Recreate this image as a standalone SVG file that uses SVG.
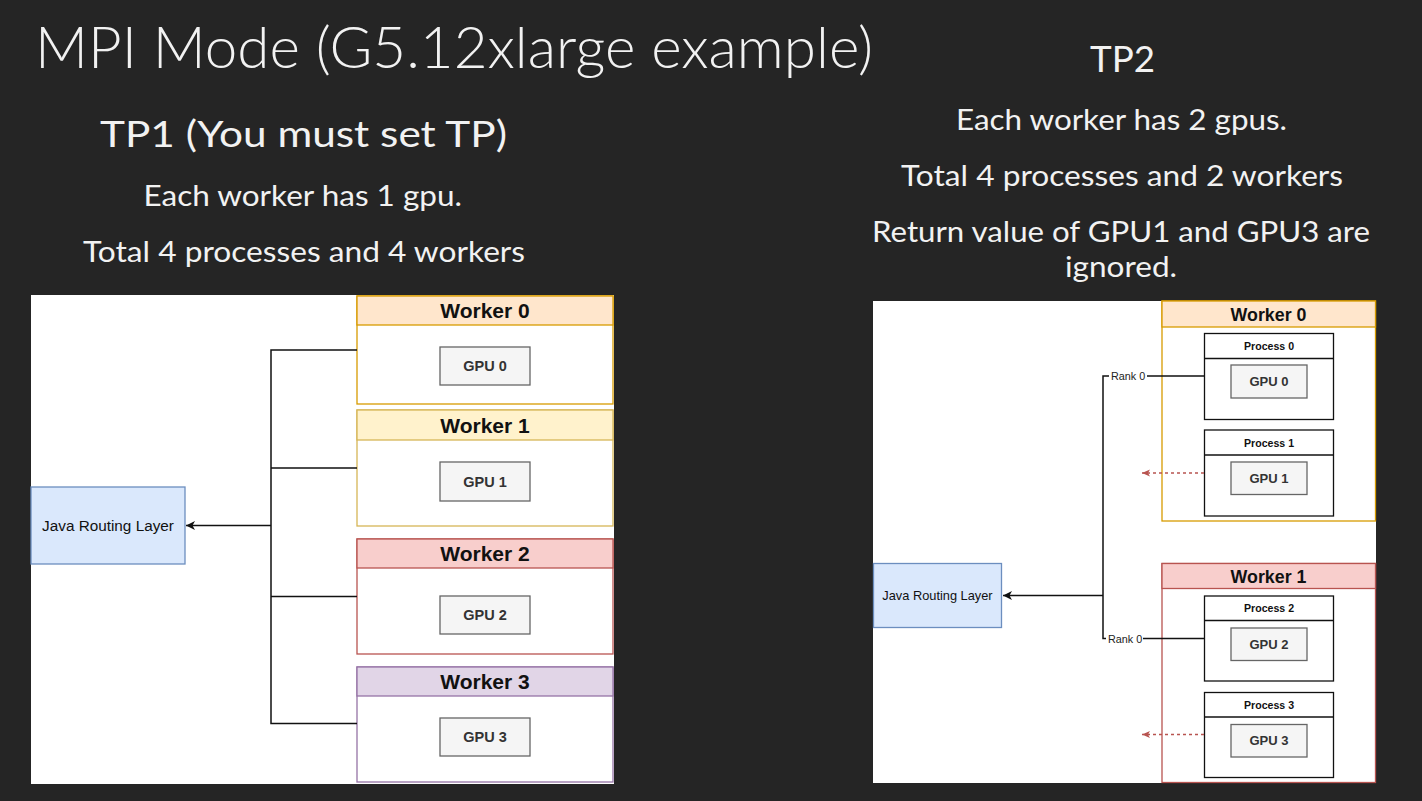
<svg xmlns="http://www.w3.org/2000/svg" width="1422" height="801" viewBox="0 0 1422 801">
<style>
.h{font-family:Lato,"Open Sans","Liberation Sans",sans-serif;fill:#f2f2f2}
.d{font-family:"Liberation Sans",Arial,sans-serif;fill:#111;text-anchor:middle}
.wt{font-weight:bold;font-size:21px}
.wt2{font-weight:bold;font-size:17.8px}
.gt{font-weight:bold;font-size:14.5px;fill:#333}
.gt2{font-weight:bold;font-size:13px;fill:#333}
.pt{font-weight:bold;font-size:10.6px}
.jt{font-size:15.3px}
.jt2{font-size:12.8px}
.rk{font-size:10.8px;text-anchor:start;fill:#222}
.gpu{fill:#f5f5f5;stroke:#666;stroke-width:1.3}
.body{fill:#fff;stroke-width:1.3}
.proc{fill:#fff;stroke:#111;stroke-width:1.3}
.java{fill:#dae8fc;stroke:#6c8ebf;stroke-width:1.3}
.ln{fill:none;stroke:#111;stroke-width:1.5}
.dash{fill:none;stroke:#b85450;stroke-width:1.3;stroke-dasharray:3 3}
</style>
<defs>
<marker id="ab" markerWidth="12" markerHeight="12" refX="10" refY="6" orient="auto" markerUnits="userSpaceOnUse">
<path d="M10,6 L1,1.5 L3.5,6 L1,10.5 Z" fill="#111"/>
</marker>
<marker id="ar" markerWidth="10" markerHeight="10" refX="9" refY="5" orient="auto" markerUnits="userSpaceOnUse">
<path d="M9,5 L1,1.5 L3,5 L1,8.5 Z" fill="#b85450"/>
</marker>
</defs>
<rect width="1422" height="801" fill="#252525"/>

<g id="titles">
<text class="h" x="35" y="68" font-size="58" font-weight="300" textLength="838" lengthAdjust="spacingAndGlyphs">MPI Mode (G5.12xlarge example)</text>
<text class="h" x="100" y="147" font-size="36" textLength="407" lengthAdjust="spacingAndGlyphs">TP1 (You must set TP)</text>
<text class="h" x="143.5" y="206" font-size="28" textLength="318.5" lengthAdjust="spacingAndGlyphs">Each worker has 1 gpu.</text>
<text class="h" x="83" y="262" font-size="28" textLength="442" lengthAdjust="spacingAndGlyphs">Total 4 processes and 4 workers</text>
<text class="h" x="1090" y="72" font-size="37" textLength="65" lengthAdjust="spacingAndGlyphs">TP2</text>
<text class="h" x="956" y="130" font-size="28" textLength="331" lengthAdjust="spacingAndGlyphs">Each worker has 2 gpus.</text>
<text class="h" x="901" y="186" font-size="28" textLength="442" lengthAdjust="spacingAndGlyphs">Total 4 processes and 2 workers</text>
<text class="h" x="872" y="242" font-size="28" textLength="498" lengthAdjust="spacingAndGlyphs">Return value of GPU1 and GPU3 are</text>
<text class="h" x="1065" y="277" font-size="28" textLength="112" lengthAdjust="spacingAndGlyphs">ignored.</text>
</g>

<g id="panels">
<rect x="31" y="295" width="583" height="489" fill="#fff"/>
<rect x="873" y="301" width="503" height="482" fill="#fff"/>
</g>

<g id="java-left">
<rect class="java" x="31" y="487" width="154" height="77"/>
<text class="d jt" x="108" y="531">Java Routing Layer</text>
</g>

<g id="worker0-left">
<rect class="body" x="357" y="296" width="256" height="108" stroke="#d79b00"/>
<rect x="357" y="296" width="256" height="29" fill="#ffe6cc" stroke="#d79b00" stroke-width="1.3"/>
<text class="d wt" x="485" y="318">Worker 0</text>
<rect class="gpu" x="440" y="347" width="90" height="38"/>
<text class="d gt" x="485" y="371">GPU 0</text>
</g>
<g id="worker1-left">
<rect class="body" x="357" y="410" width="256" height="116" stroke="#d6b656"/>
<rect x="357" y="410" width="256" height="30" fill="#fff2cc" stroke="#d6b656" stroke-width="1.3"/>
<text class="d wt" x="485" y="432.5">Worker 1</text>
<rect class="gpu" x="440" y="462" width="90" height="39"/>
<text class="d gt" x="485" y="486.5">GPU 1</text>
</g>
<g id="worker2-left">
<rect class="body" x="357" y="539" width="256" height="115" stroke="#b85450"/>
<rect x="357" y="539" width="256" height="29" fill="#f8cecc" stroke="#b85450" stroke-width="1.3"/>
<text class="d wt" x="485" y="561">Worker 2</text>
<rect class="gpu" x="440" y="596" width="90" height="38"/>
<text class="d gt" x="485" y="620">GPU 2</text>
</g>
<g id="worker3-left">
<rect class="body" x="357" y="667" width="256" height="115" stroke="#9673a6"/>
<rect x="357" y="667" width="256" height="29" fill="#e1d5e7" stroke="#9673a6" stroke-width="1.3"/>
<text class="d wt" x="485" y="689">Worker 3</text>
<rect class="gpu" x="440" y="718" width="90" height="38"/>
<text class="d gt" x="485" y="742">GPU 3</text>
</g>

<g id="java-right">
<rect class="java" x="873.5" y="563.5" width="128" height="64"/>
<text class="d jt2" x="937.5" y="600">Java Routing Layer</text>
</g>

<g id="worker0-right">
<rect class="body" x="1162" y="301" width="213.5" height="220" stroke="#d79b00"/>
<rect x="1162" y="301" width="213.5" height="26" fill="#ffe6cc" stroke="#d79b00" stroke-width="1.3"/>
<text class="d wt2" x="1268.5" y="320.5">Worker 0</text>
</g>
<g id="process0">
<rect class="proc" x="1204.5" y="333.5" width="129" height="86"/>
<line x1="1204.5" y1="358.5" x2="1333.5" y2="358.5" stroke="#111" stroke-width="1.3"/>
<text class="d pt" x="1269" y="350">Process 0</text>
<rect class="gpu" x="1231" y="365" width="76" height="33"/>
<text class="d gt2" x="1269" y="386">GPU 0</text>
</g>
<g id="process1">
<rect class="proc" x="1204.5" y="430" width="129" height="86"/>
<line x1="1204.5" y1="455" x2="1333.5" y2="455" stroke="#111" stroke-width="1.3"/>
<text class="d pt" x="1269" y="446.5">Process 1</text>
<rect class="gpu" x="1231" y="462" width="76" height="32.5"/>
<text class="d gt2" x="1269" y="482.5">GPU 1</text>
</g>

<g id="worker1-right">
<rect class="body" x="1162" y="563.5" width="213.5" height="219" stroke="#b85450"/>
<rect x="1162" y="563.5" width="213.5" height="25" fill="#f8cecc" stroke="#b85450" stroke-width="1.3"/>
<text class="d wt2" x="1268.5" y="582.5">Worker 1</text>
</g>
<g id="process2">
<rect class="proc" x="1204.5" y="596" width="129" height="85"/>
<line x1="1204.5" y1="620.5" x2="1333.5" y2="620.5" stroke="#111" stroke-width="1.3"/>
<text class="d pt" x="1269" y="612">Process 2</text>
<rect class="gpu" x="1231" y="628" width="76" height="32.5"/>
<text class="d gt2" x="1269" y="648.5">GPU 2</text>
</g>
<g id="process3">
<rect class="proc" x="1204.5" y="692.5" width="129" height="85"/>
<line x1="1204.5" y1="717" x2="1333.5" y2="717" stroke="#111" stroke-width="1.3"/>
<text class="d pt" x="1269" y="708.5">Process 3</text>
<rect class="gpu" x="1231" y="724.5" width="76" height="32.5"/>
<text class="d gt2" x="1269" y="745">GPU 3</text>
</g>

<g id="connectors">
<path class="ln" d="M357,350 H271 V723.5 H357 M271,468 H357 M271,596.5 H357"/>
<path class="ln" d="M271,525.5 H186" marker-end="url(#ab)"/>
<path class="ln" d="M1204,376 H1103 V638.5 H1204"/>
<path class="ln" d="M1103,595.5 H1003" marker-end="url(#ab)"/>
<path class="dash" d="M1204,473 H1142" marker-end="url(#ar)"/>
<path class="dash" d="M1204,734.5 H1142" marker-end="url(#ar)"/>
<rect x="1109" y="370" width="38" height="12" fill="#fff"/>
<text class="d rk" x="1111" y="380">Rank 0</text>
<rect x="1106" y="632" width="37" height="12" fill="#fff"/>
<text class="d rk" x="1108" y="642.5">Rank 0</text>
</g>
</svg>
